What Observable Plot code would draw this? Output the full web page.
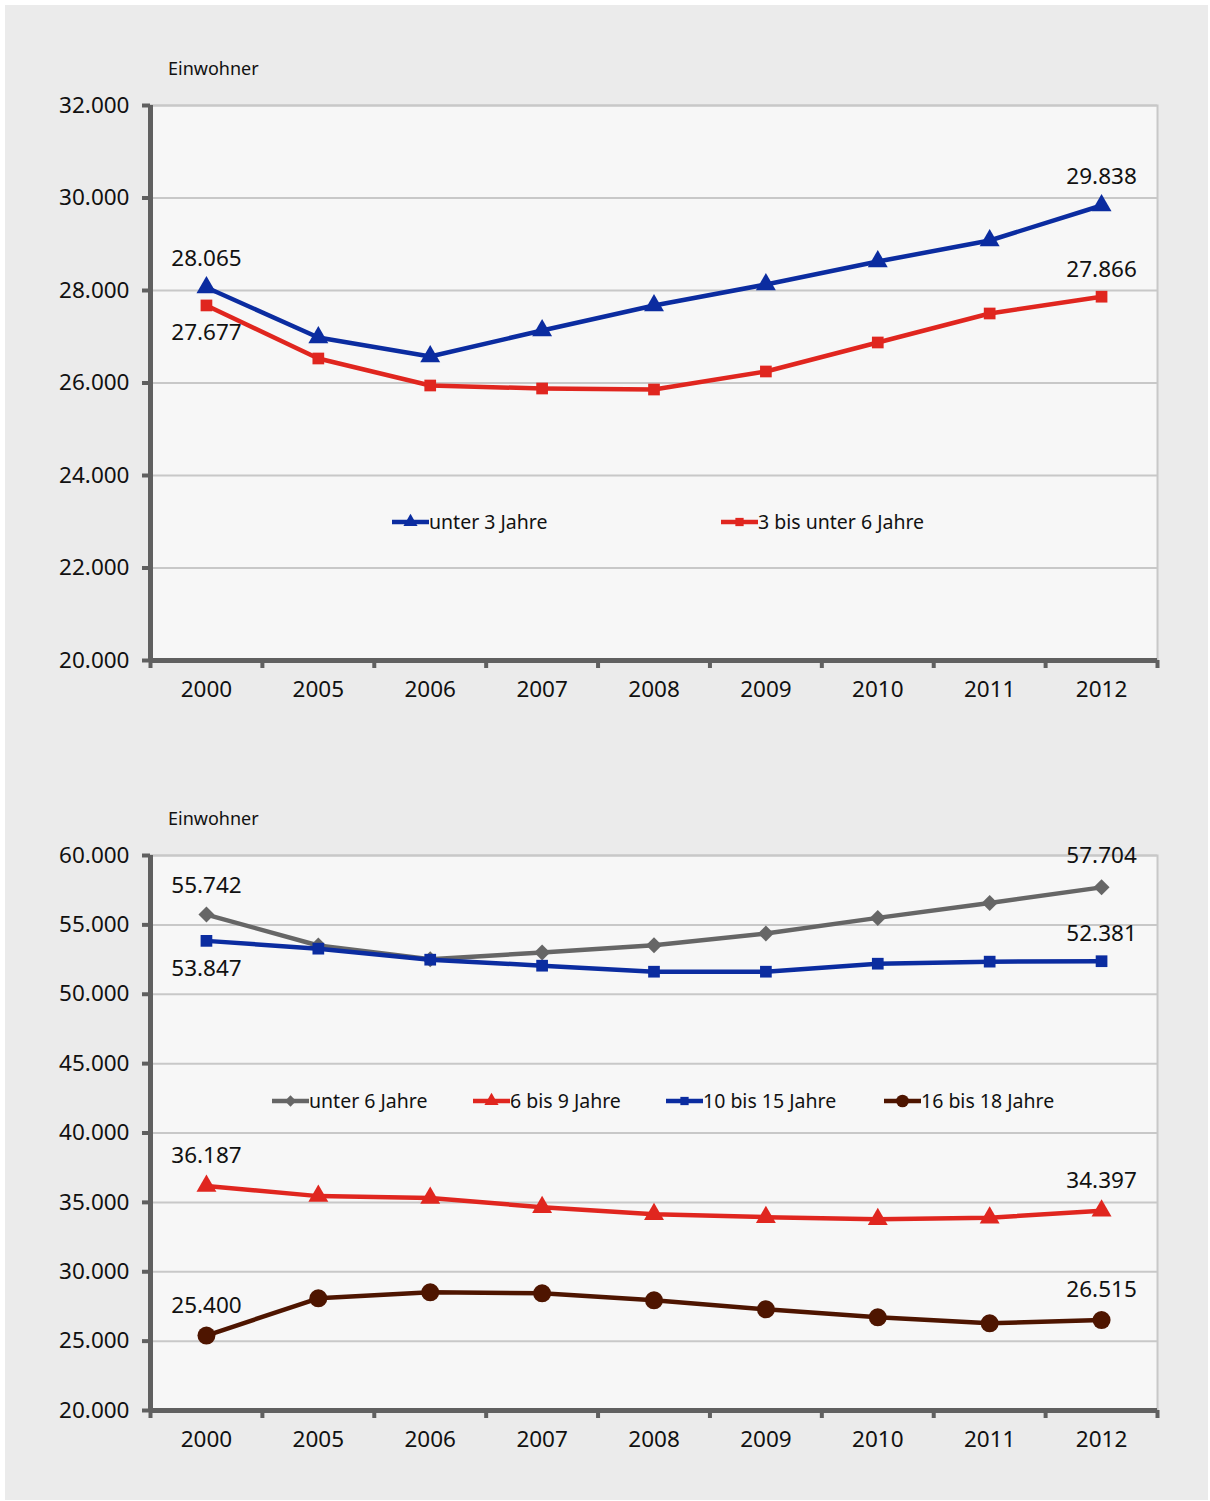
<!DOCTYPE html>
<html><head><meta charset="utf-8">
<script src="https://cdn.jsdelivr.net/npm/d3@7"></script>
<script src="https://cdn.jsdelivr.net/npm/@observablehq/plot@0.6"></script>
<style>
html,body{margin:0;padding:0;background:#fff;}
#panel{position:absolute;left:5px;top:5px;width:1203px;height:1495px;background:#ebebeb;}
.chart{position:absolute;left:0;}
.ylab{position:absolute;left:168px;font:18px "Noto Sans",sans-serif;color:#111;}
.legend{position:absolute;font:19.5px "Liberation Sans Narrow","Noto Sans",sans-serif;color:#111;}
.legend .it{position:absolute;white-space:nowrap;display:flex;align-items:center;}
.legend svg{display:block;}
</style></head>
<body>
<div id="panel"></div>
<div class="ylab" style="top:56px">Einwohner</div>
<div class="ylab" style="top:806px">Einwohner</div>
<div id="c1" class="chart" style="top:40px"></div>
<div id="c2" class="chart" style="top:790px"></div>
<div id="l1" class="legend"></div>
<div id="l2" class="legend"></div>
<script>
const years = ["2000","2005","2006","2007","2008","2009","2010","2011","2012"];
// Chart 1
const unter3 = [28065,26984,26573,27135,27676,28130,28627,29081,29838];
const bis6 = [27677,26530,25946,25881,25859,26249,26876,27503,27866];
const ticks1 = [20000,22000,24000,26000,28000,30000,32000];
// Chart 2
const unter6 = [55742,53514,52519,53016,53535,54379,55503,56584,57704];
const bis9 = [36187,35451,35307,34657,34152,33935,33791,33900,34397];
const bis15 = [53847,53285,52491,52058,51625,51625,52202,52350,52381];
const bis18 = [25400,28087,28520,28448,27942,27292,26715,26282,26515];
const ticks2 = [20000,25000,30000,35000,40000,45000,50000,55000,60000];

const series1 = [
  {name:"unter 3 Jahre", values:unter3, color:"#0b2ca0", symbol:"triangle", r:7.4, lab:[-29,-29]},
  {name:"3 bis unter 6 Jahre", values:bis6, color:"#e0261f", symbol:"square", r:6.6, lab:[27,-27]}
];
const series2 = [
  {name:"unter 6 Jahre", values:unter6, color:"#666666", symbol:"diamond2", r:7.2, lab:[-29,-32]},
  {name:"6 bis 9 Jahre", values:bis9, color:"#e0261f", symbol:"triangle", r:7.4, lab:[-30,-30]},
  {name:"10 bis 15 Jahre", values:bis15, color:"#0b2ca0", symbol:"square", r:6.6, lab:[28,-27]},
  {name:"16 bis 18 Jahre", values:bis18, color:"#4e1500", symbol:"circle", r:9, lab:[-30,-30]}
];

const de = d3.formatLocale({decimal:",", thousands:".", grouping:[3], currency:["","€"]});
const fmt = de.format(",d");
const axisColor = "#606060";
const idx = years.map((d,i)=>i);
const bounds = d3.range(-0.5, years.length, 1);

function chart(series, ticks, ydom) {
  const marks = [
    Plot.frame({fill:"#f7f7f7", stroke:"#c8c8c8", strokeWidth:2}),
    Plot.gridY(ticks, {stroke:"#c8c8c8", strokeOpacity:1, strokeWidth:2}),
  ];
  for (const s of series) {
    const data = s.values.map((v,i)=>({i, v}));
    marks.push(Plot.line(data, {x:"i", y:"v", stroke:s.color, strokeWidth:4.5}));
    marks.push(Plot.dot(data, {x:"i", y:"v", fill:s.color, stroke:"none", symbol:s.symbol, r:s.r}));
    const ends = [data[0], data[data.length-1]];
    marks.push(Plot.text([ends[0]], {x:"i", y:"v", text:d=>fmt(d.v), dy:s.lab[0], fontSize:22.5, fill:"#111"}));
    marks.push(Plot.text([ends[1]], {x:"i", y:"v", text:d=>fmt(d.v), dy:s.lab[1], fontSize:22.5, fill:"#111"}));
  }
  marks.push(
    Plot.ruleX([-0.5], {stroke:axisColor, strokeWidth:5}),
    Plot.ruleY([ydom[0]], {stroke:axisColor, strokeWidth:5}),
    Plot.axisY({ticks, tickSize:8, tickPadding:13, stroke:axisColor, strokeWidth:4, fill:"#111", tickFormat:fmt, fontSize:22.5, label:null}),
    Plot.axisX({ticks:bounds, tickSize:8, stroke:axisColor, strokeWidth:4, tickFormat:()=>"", label:null}),
    Plot.axisX({ticks:idx, tickSize:0, tickPadding:21, fill:"#111", tickFormat:i=>years[i], fontSize:22.5, label:null})
  );
  return Plot.plot({
    width:1210, height:680,
    marginLeft:150, marginRight:53, marginTop:65, marginBottom:60,
    x:{type:"linear", domain:[-0.5, years.length-0.5]},
    y:{domain:ydom},
    style:{fontFamily:"'Noto Sans', sans-serif", background:"transparent", overflow:"visible"},
    marks
  });
}

document.getElementById("c1").appendChild(chart(series1, ticks1, [20000,32000]));
document.getElementById("c2").appendChild(chart(series2, ticks2, [20000,60000]));

function swatch(s) {
  const ns = "http://www.w3.org/2000/svg";
  const svg = document.createElementNS(ns, "svg");
  svg.setAttribute("width", 37); svg.setAttribute("height", 18);
  const line = document.createElementNS(ns, "line");
  line.setAttribute("x1", 0); line.setAttribute("x2", 37); line.setAttribute("y1", 9); line.setAttribute("y2", 9);
  line.setAttribute("stroke", s.color); line.setAttribute("stroke-width", 4.5);
  svg.appendChild(line);
  const symMap = {triangle:d3.symbolTriangle, square:d3.symbolSquare, diamond2:d3.symbolDiamond2, circle:d3.symbolCircle};
  const p = document.createElementNS(ns, "path");
  p.setAttribute("d", d3.symbol(symMap[s.symbol], Math.PI*s.r*s.r*0.5)());
  p.setAttribute("transform", "translate(18.5,9)");
  p.setAttribute("fill", s.color);
  svg.appendChild(p);
  return svg;
}
function legend(id, series, xs, top) {
  const el = document.getElementById(id);
  el.style.top = top + "px"; el.style.left = "0px";
  series.forEach((s,k) => {
    const it = document.createElement("div");
    it.className = "it";
    it.style.left = xs[k] + "px";
    it.appendChild(swatch(s));
    const t = document.createElement("span");
    t.textContent = s.name;
    it.appendChild(t);
    el.appendChild(it);
  });
}
legend("l1", series1, [392, 721], 508);
legend("l2", series2, [272, 473, 666, 884], 1087);
</script>
</body></html>
